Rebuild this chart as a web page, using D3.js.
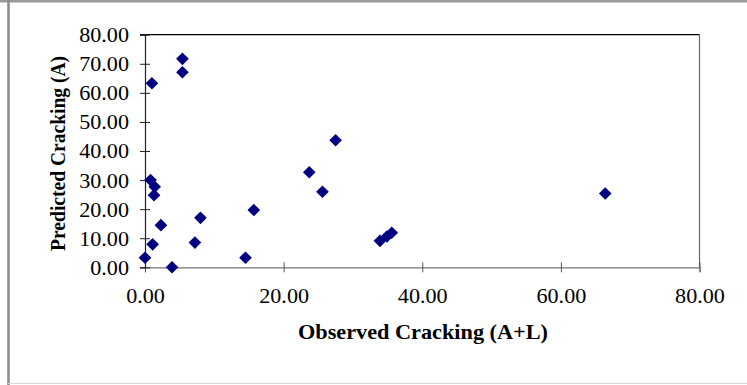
<!DOCTYPE html>
<html>
<head>
<meta charset="utf-8">
<script src="https://cdn.jsdelivr.net/npm/d3@7"></script>
<style>
  html, body { margin: 0; padding: 0; background: #fff; }
  svg { display: block; }
</style>
</head>
<body>
<svg id="chart" width="747" height="385"></svg>
<script>
// ---- data ----
const observed  = [0.0, 1.0, 0.8, 1.4, 1.3, 1.1, 2.3, 3.9, 5.4, 5.4, 7.2, 8.0, 15.7, 14.5, 23.7, 25.6, 27.5, 33.9, 34.9, 35.6, 66.4];
const predicted = [3.3, 63.3, 30.0, 27.7, 24.8, 7.9, 14.5, 0.0, 71.7, 67.1, 8.5, 17.0, 19.7, 3.3, 32.7, 26.0, 43.7, 9.1, 10.6, 11.9, 25.4];
const xTicks = [0, 20, 40, 60, 80];
const yTicks = [0, 10, 20, 30, 40, 50, 60, 70, 80];
const xTitle = "Observed Cracking (A+L)";
const yTitle = "Predicted Cracking (A)";

const points = observed.map((x, i) => ({ x, y: predicted[i] }));

const svg = d3.select("#chart");
const W = 747, H = 385;
const plot = { left: 145, right: 699.5, top: 34.7, bottom: 267.3 };
const serif = "'Liberation Serif', 'Times New Roman', serif";

const x = d3.scaleLinear().domain([0, 80]).range([plot.left, plot.right]);
const y = d3.scaleLinear().domain([0, 80]).range([plot.bottom, plot.top]);

// outer frame
svg.append("rect").attr("x", 0).attr("y", 0).attr("width", W).attr("height", H).attr("fill", "#fff");
svg.append("line").attr("x1", 0).attr("x2", W).attr("y1", 1).attr("y2", 1)
  .attr("stroke", "#9a9a9a").attr("stroke-width", 3);
svg.append("line").attr("x1", 8.5).attr("x2", 8.5).attr("y1", 0).attr("y2", H)
  .attr("stroke", "#8a8a8a").attr("stroke-width", 2.5);
svg.append("line").attr("x1", 8).attr("x2", W).attr("y1", 383.5).attr("y2", 383.5)
  .attr("stroke", "#d8d8d8").attr("stroke-width", 1);

// plot area border: top & right
svg.append("line").attr("x1", plot.left - 5).attr("x2", plot.right).attr("y1", plot.top).attr("y2", plot.top)
  .attr("stroke", "#000").attr("stroke-width", 1.3);
svg.append("line").attr("x1", plot.right).attr("x2", plot.right).attr("y1", plot.top).attr("y2", plot.bottom)
  .attr("stroke", "#666").attr("stroke-width", 1.2);

const fmt = d3.format(".2f");
const stretch = 1.08;

// x axis
const gx = svg.append("g").attr("transform", `translate(0,${plot.bottom})`)
  .call(d3.axisBottom(x).tickValues(xTicks).tickFormat(fmt).tickSize(5));
gx.select(".domain").attr("stroke", "#777").attr("stroke-width", 1.2);
gx.selectAll(".tick line").attr("y1", -5).attr("y2", 5).attr("stroke", "#555");
gx.selectAll(".tick text")
  .attr("font-family", serif)
  .attr("font-size", 20.5).attr("fill", "#000")
  .attr("dy", "0.71em")
  .attr("y", 21)
  .each(function () {
    const w = this.getComputedTextLength();
    d3.select(this).attr("textLength", w * stretch).attr("lengthAdjust", "spacingAndGlyphs");
  });

// y axis
const gy = svg.append("g").attr("transform", `translate(${plot.left},0)`)
  .call(d3.axisLeft(y).tickValues(yTicks).tickFormat(fmt).tickSize(5));
gy.select(".domain").attr("stroke", "#222").attr("stroke-width", 1.2);
gy.selectAll(".tick line").attr("x1", -5).attr("x2", 5).attr("stroke", "#222");
gy.selectAll(".tick text")
  .attr("font-family", serif)
  .attr("font-size", 20.5).attr("fill", "#000")
  .attr("x", -16)
  .attr("dy", "0.34em")
  .each(function () {
    const w = this.getComputedTextLength();
    d3.select(this).attr("textLength", w * stretch).attr("lengthAdjust", "spacingAndGlyphs");
  });

// axis titles
svg.append("text")
  .attr("x", (298 + 548) / 2).attr("y", 339)
  .attr("text-anchor", "middle")
  .attr("font-family", serif)
  .attr("font-weight", "bold").attr("font-size", 21).attr("fill", "#000")
  .attr("textLength", 250).attr("lengthAdjust", "spacingAndGlyphs")
  .text(xTitle);

svg.append("text")
  .attr("transform", `translate(64.5,153.4) rotate(-90)`)
  .attr("text-anchor", "middle")
  .attr("font-family", serif)
  .attr("font-weight", "bold").attr("font-size", 21).attr("fill", "#000")
  .attr("textLength", 195).attr("lengthAdjust", "spacingAndGlyphs")
  .text(yTitle);

// markers
const diamond = d3.symbol().type(d3.symbolSquare).size(80);
svg.append("g").selectAll("path").data(points).join("path")
  .attr("d", diamond)
  .attr("transform", d => `translate(${x(d.x)},${y(d.y)}) rotate(45)`)
  .attr("fill", "#000080");
</script>
</body>
</html>
